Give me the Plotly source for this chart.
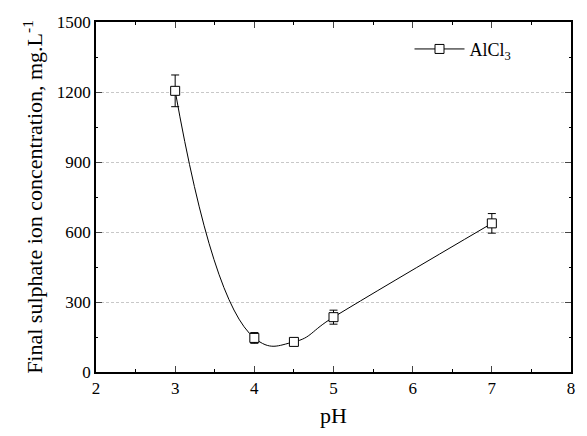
import plotly.graph_objects as go

ph = [3, 4, 4.5, 5, 7]
sulphate = [1205, 146, 129, 235, 637]
err = [68, 23, 12, 30, 42]
x_ticks = [2, 3, 4, 5, 6, 7, 8]
y_ticks = [0, 300, 600, 900, 1200, 1500]

font_family = "Liberation Serif, Times New Roman, serif"

fig = go.Figure()
fig.add_trace(go.Scatter(
    x=ph, y=sulphate, mode="lines+markers", name="AlCl<sub>3</sub>",
    line=dict(color="black", width=1, shape="spline", smoothing=1.3),
    marker=dict(symbol="square", size=9, color="white", line=dict(color="black", width=1)),
    error_y=dict(type="data", array=err, visible=True, color="black", thickness=1, width=4),
))

fig.update_layout(
    width=587, height=436,
    margin=dict(l=96, r=12, t=22, b=61),
    paper_bgcolor="white", plot_bgcolor="white",
    font=dict(family=font_family, size=17, color="black"),
    showlegend=True,
    legend=dict(x=0.66, y=0.975, xanchor="left", yanchor="top", bgcolor="rgba(0,0,0,0)",
                font=dict(size=18, family=font_family), itemwidth=50),
    xaxis=dict(
        range=[2, 8], tickvals=x_ticks, ticks="inside", ticklen=6, tickwidth=1,
        showline=True, linecolor="black", linewidth=1.5, mirror="ticks",
        showgrid=False, zeroline=False,
        minor=dict(dtick=0.5, ticks="inside", ticklen=3, tickcolor="black"),
        title=dict(text="pH", font=dict(size=22, family=font_family), standoff=10),
        tickfont=dict(size=17, family=font_family),
    ),
    yaxis=dict(
        range=[0, 1500], tickvals=y_ticks, ticks="inside", ticklen=6, tickwidth=1,
        showline=True, linecolor="black", linewidth=1.5, mirror="ticks",
        showgrid=True, gridcolor="#c8c8c8", griddash="3px,2px", gridwidth=1,
        zeroline=False,
        minor=dict(dtick=150, ticks="inside", ticklen=2, tickcolor="black"),
        title=dict(text="Final sulphate ion concentration, mg.L<sup>-1</sup>",
                   font=dict(size=22, family=font_family), standoff=8),
        tickfont=dict(size=17, family=font_family),
    ),
)

fig.write_html("out.html", config={"displayModeBar": False},
               post_script="document.body.style.margin='0';document.body.style.overflow='hidden';")
